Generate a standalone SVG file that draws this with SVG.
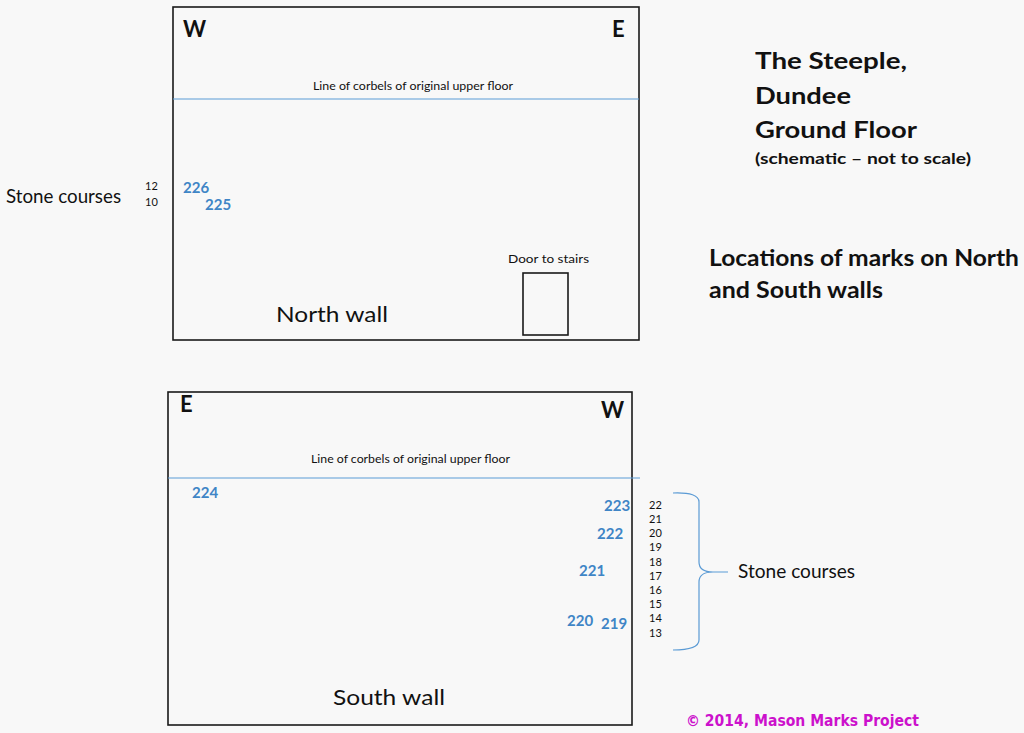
<svg xmlns="http://www.w3.org/2000/svg" width="1024" height="733" viewBox="0 0 1024 733">
<style>
.t{font-family:Lato,"Liberation Sans",sans-serif;fill:#111}
.b{font-weight:bold}
.wall{fill:none;stroke:#1a1a1a;stroke-width:1.6}
.corb{stroke:#5b9bd5;stroke-width:1.2;fill:none}
.m{font-family:Lato,"Liberation Sans",sans-serif;font-weight:bold;fill:#3f85c6;font-size:15px}
.n{font-family:Lato,"Liberation Sans",sans-serif;fill:#111;font-size:11px}
</style>
<rect width="1024" height="733" fill="#f8f8f8"/>
<g id="title">
<text class="t b" x="755" y="69" font-size="23" textLength="152" lengthAdjust="spacingAndGlyphs">The Steeple,</text>
<text class="t b" x="755" y="104" font-size="23" textLength="96" lengthAdjust="spacingAndGlyphs">Dundee</text>
<text class="t b" x="755" y="138" font-size="23" textLength="162" lengthAdjust="spacingAndGlyphs">Ground Floor</text>
<text class="t b" x="755" y="164" font-size="15" textLength="216" lengthAdjust="spacingAndGlyphs">(schematic – not to scale)</text>
<text class="t b" x="709" y="266" font-size="22" textLength="310" lengthAdjust="spacingAndGlyphs">Locations of marks on North</text>
<text class="t b" x="709" y="298" font-size="22" textLength="174" lengthAdjust="spacingAndGlyphs">and South walls</text>
</g>
<g id="north-wall">
<rect class="wall" x="173" y="7" width="466" height="333"/>
<text class="t b" x="183" y="37" font-size="22">W</text>
<text class="t b" x="612" y="37" font-size="22">E</text>
<text class="t" x="313" y="90" font-size="12" textLength="200" lengthAdjust="spacingAndGlyphs">Line of corbels of original upper floor</text>
<line class="corb" x1="173" y1="99" x2="639" y2="99"/>
<text class="t" x="276" y="322" font-size="22" textLength="112" lengthAdjust="spacingAndGlyphs">North wall</text>
<text class="t" x="508" y="263" font-size="12" textLength="81" lengthAdjust="spacingAndGlyphs">Door to stairs</text>
<rect class="wall" x="523" y="273" width="45" height="62" stroke-width="1.4"/>
<text class="m" x="183" y="193">226</text>
<text class="m" x="205" y="210">225</text>
</g>
<g id="north-courses">
<text class="t" x="6" y="203" font-size="19" textLength="115" lengthAdjust="spacingAndGlyphs">Stone courses</text>
<text class="n" x="145" y="190">12</text>
<text class="n" x="145" y="206">10</text>
</g>
<g id="south-wall">
<rect class="wall" x="168" y="392" width="464" height="333"/>
<text class="t b" x="180" y="412" font-size="22">E</text>
<text class="t b" x="601" y="418" font-size="22">W</text>
<text class="t" x="311" y="463" font-size="12" textLength="199" lengthAdjust="spacingAndGlyphs">Line of corbels of original upper floor</text>
<line class="corb" x1="168" y1="478" x2="640" y2="478"/>
<text class="t" x="333" y="705" font-size="22" textLength="112" lengthAdjust="spacingAndGlyphs">South wall</text>
<text class="m" x="192" y="498">224</text>
<text class="m" x="604" y="511">223</text>
<text class="m" x="597" y="539">222</text>
<text class="m" x="579" y="576">221</text>
<text class="m" x="567" y="626">220</text>
<text class="m" x="601" y="629">219</text>
</g>
<g id="south-courses">
<text class="n" x="649" y="509">22</text>
<text class="n" x="649" y="523">21</text>
<text class="n" x="649" y="537">20</text>
<text class="n" x="649" y="551">19</text>
<text class="n" x="649" y="566">18</text>
<text class="n" x="649" y="580">17</text>
<text class="n" x="649" y="594">16</text>
<text class="n" x="649" y="608">15</text>
<text class="n" x="649" y="622">14</text>
<text class="n" x="649" y="637">13</text>
<text class="t" x="738" y="578" font-size="19" textLength="117" lengthAdjust="spacingAndGlyphs">Stone courses</text>
</g>
<g id="connectors">
<path class="corb" d="M673 493 Q699 492 699 502 L699 562 Q699 572 713 572 L728 572 M713 572 Q699 572 699 582 L699 640 Q699 650 673 650"/>
</g>
<text x="686" y="726" font-family="DejaVu Sans,Verdana,sans-serif" font-weight="bold" font-size="15" fill="#cc11cc" textLength="233" lengthAdjust="spacingAndGlyphs">© 2014, Mason Marks Project</text>
</svg>
